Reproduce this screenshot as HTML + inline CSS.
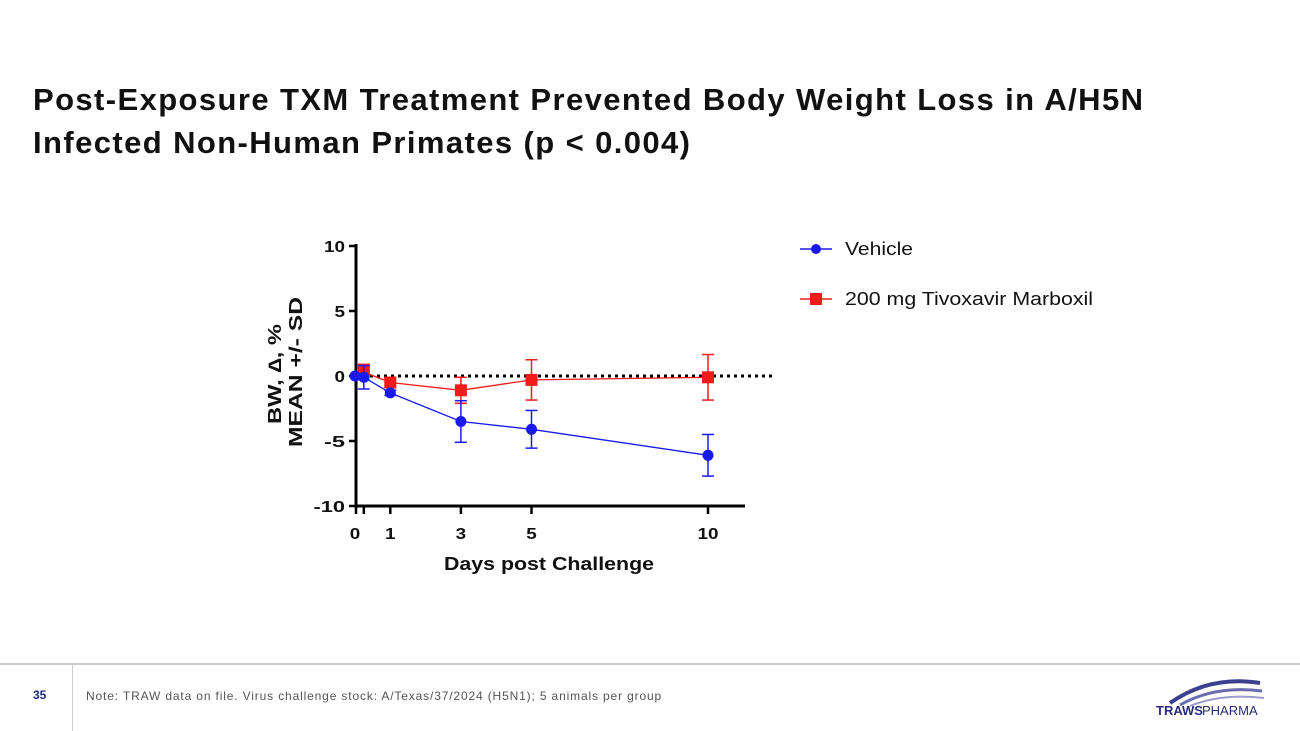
<!DOCTYPE html>
<html><head><meta charset="utf-8"><style>
body{margin:0;width:1300px;height:731px;background:#fff;position:relative;overflow:hidden;font-family:"Liberation Sans",sans-serif}
#title{position:absolute;left:33px;top:78px;font-size:31px;font-weight:bold;color:#111;line-height:43px;letter-spacing:1.4px;white-space:nowrap}
#footer-line{position:absolute;left:0;top:663px;width:1300px;height:2px;background:#ccc}
#vsep{position:absolute;left:72px;top:665px;width:1px;height:66px;background:#ccc}
#pagenum{position:absolute;left:33px;top:688px;font-size:12px;font-weight:bold;color:#1f2a7a}
#note{position:absolute;left:86px;top:689px;font-size:12px;color:#555;letter-spacing:0.85px;white-space:nowrap}
#logo{position:absolute;left:1150px;top:675px}
</style></head><body>
<div id="title">Post-Exposure TXM Treatment Prevented Body Weight Loss in A/H5N<br>Infected Non-Human Primates (p &lt; 0.004)</div>
<svg id="chart" width="1300" height="731" style="position:absolute;left:0;top:0"></svg>
<div id="footer-line"></div>
<div id="vsep"></div>
<div id="pagenum">35</div>
<div id="note">Note: TRAW data on file. Virus challenge stock: A/Texas/37/2024 (H5N1); 5 animals per group</div>
<svg id="logo" width="120" height="45">
<path d="M20 28 Q60 0 110 8" stroke="#3d3f8f" stroke-width="4" fill="none"/>
<path d="M30 30 Q65 10 112 16" stroke="#6a6cb0" stroke-width="3" fill="none"/>
<path d="M40 31 Q72 18 114 23" stroke="#9a9cd0" stroke-width="2" fill="none"/>
<text x="6" y="40" font-size="13" font-weight="bold" fill="#2a2c7a" font-family="Liberation Sans,sans-serif">TRAWS</text>
<text x="52" y="40" font-size="13" fill="#2a2c7a" font-family="Liberation Sans,sans-serif">PHARMA</text>
</svg>
<script>
const days=[0,0.25,1,3,5,10];
const vehicleMean=[0,-0.1,-1.3,-3.5,-4.1,-6.1];
const vehicleSD=[0,0.9,0.2,1.6,1.45,1.6];
const txmDays=[0.25,1,3,5,10];
const txmMean=[0.3,-0.5,-1.1,-0.3,-0.1];
const txmSD=[0.6,0.3,1.0,1.55,1.75];
const xTicks=[0,1,3,5,10];
const yTicks=[10,5,0,-5,-10];
const NS='http://www.w3.org/2000/svg';
const svg=document.getElementById('chart');
const X=d=>355+35.3*d, Y=v=>376-13*v;
function el(t,a,name){const e=document.createElementNS(NS,t);for(const k in a)e.setAttribute(k,a[k]);


svg.appendChild(e);return e;}
function txt(s,a,name){const e=el('text',Object.assign({'font-family':'Liberation Sans,sans-serif','font-weight':'bold','font-size':16,fill:'#111',lengthAdjust:'spacingAndGlyphs'},a),name);e.textContent=s;return e;}
el('line',{x1:356,y1:244,x2:356,y2:508,stroke:'#000','stroke-width':3},'y-axis');
el('line',{x1:355,y1:506,x2:745,y2:506,stroke:'#000','stroke-width':3},'x-axis');
yTicks.forEach(v=>{el('line',{x1:349,y1:Y(v),x2:356,y2:Y(v),stroke:'#000','stroke-width':2.5},'y-tick');
const s=String(v);txt(s,{x:345,y:Y(v)+6,'text-anchor':'end',textLength:s.length*10.5},'y-tick-label');});
xTicks.concat([0.25]).forEach(d=>{el('line',{x1:X(d)+(d===0?1:0),y1:506,x2:X(d)+(d===0?1:0),y2:514,stroke:'#000','stroke-width':2.5},'x-tick');});
xTicks.forEach(d=>{const s=String(d);txt(s,{x:X(d),y:539,'text-anchor':'middle',textLength:s.length*10.5},'x-tick-label');});
txt('Days post Challenge',{x:444,y:570,'font-size':18,textLength:210},'x-axis-title');
txt('BW, \u2206, %',{x:0,y:0,'font-size':18,textLength:100,transform:'translate(281,424) rotate(-90)'},'y-axis-title');
txt('MEAN +/- SD',{x:0,y:0,'font-size':18,textLength:150,transform:'translate(302,447) rotate(-90)'},'y-axis-title-2');
el('line',{x1:356,y1:376,x2:775,y2:376,stroke:'#000','stroke-width':3,'stroke-dasharray':'3,4'},'zero-reference-line');
function series(ds,m,sd,col,shape,name){
 el('polyline',{points:ds.map((d,i)=>X(d)+','+Y(m[i])).join(' '),fill:'none',stroke:col,'stroke-width':1.3},name+'-line');
 ds.forEach((d,i)=>{if(sd[i]>0){const x=X(d);
  el('line',{x1:x,y1:Y(m[i]+sd[i]),x2:x,y2:Y(m[i]-sd[i]),stroke:col,'stroke-width':1.5},name+'-error-bar');
  [m[i]+sd[i],m[i]-sd[i]].forEach(v=>el('line',{x1:x-6,y1:Y(v),x2:x+6,y2:Y(v),stroke:col,'stroke-width':1.5},name+'-error-cap'));}
  if(shape==='c')el('circle',{cx:X(d),cy:Y(m[i]),r:5.5,fill:col},name+'-point');
  else el('rect',{x:X(d)-6,y:Y(m[i])-6,width:12,height:12,fill:col},name+'-point');});
}
series(txmDays,txmMean,txmSD,'#f21b1b','s','txm');
series(days,vehicleMean,vehicleSD,'#1a1aee','c','vehicle');
el('line',{x1:800,y1:249,x2:832,y2:249,stroke:'#1a1aee','stroke-width':1.5},'legend-vehicle-line');
el('circle',{cx:816,cy:249,r:5,fill:'#1a1aee'},'legend-vehicle-marker');
txt('Vehicle',{x:845,y:255,'font-weight':'normal','font-size':18,textLength:68},'legend-vehicle-label');
el('line',{x1:800,y1:299,x2:832,y2:299,stroke:'#f21b1b','stroke-width':1.5},'legend-txm-line');
el('rect',{x:810,y:293,width:12,height:12,fill:'#f21b1b'},'legend-txm-marker');
txt('200 mg Tivoxavir Marboxil',{x:845,y:305,'font-weight':'normal','font-size':18,textLength:248},'legend-txm-label');
</script>
</body></html>
